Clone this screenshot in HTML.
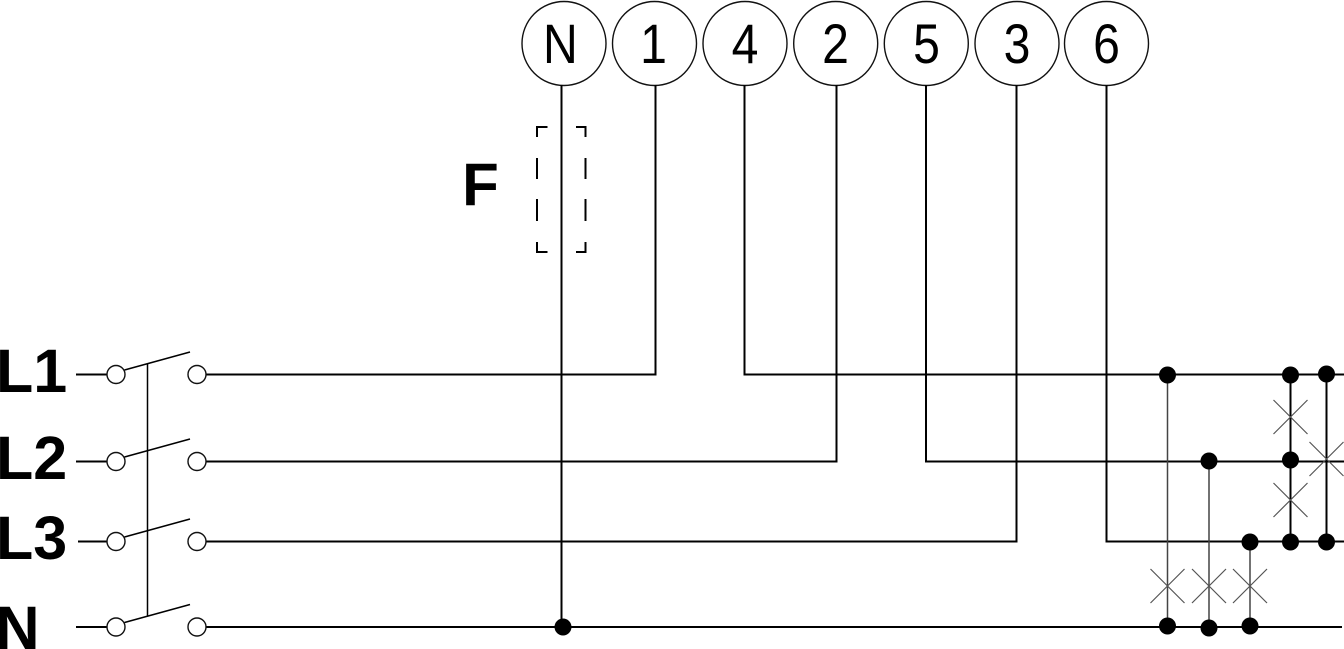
<!DOCTYPE html>
<html>
<head>
<meta charset="utf-8">
<style>
  html, body { margin: 0; padding: 0; background: #fff; }
  svg { display: block; }
  text { font-family: "Liberation Sans", Arial, sans-serif; fill: #000; }
</style>
</head>
<body>
<svg width="1344" height="649" viewBox="0 0 1344 649" xmlns="http://www.w3.org/2000/svg">
  <!-- Top terminal circles -->
  <g fill="none" stroke="#111" stroke-width="1.4">
    <circle cx="564" cy="43.5" r="42"/>
    <circle cx="654.5" cy="43.5" r="42"/>
    <circle cx="745" cy="43.5" r="42"/>
    <circle cx="835.7" cy="43.5" r="42"/>
    <circle cx="926.3" cy="43.5" r="42"/>
    <circle cx="1017" cy="43.5" r="42"/>
    <circle cx="1106.5" cy="43.5" r="42"/>
  </g>
  <g font-size="56" text-anchor="middle" transform="scale(0.86 1)">
    <text x="651.7" y="63">N</text>
    <text x="759.9" y="63">1</text>
    <text x="866.3" y="63">4</text>
    <text x="971.5" y="63">2</text>
    <text x="1077.3" y="63">5</text>
    <text x="1182.6" y="63">3</text>
    <text x="1286.6" y="63">6</text>
  </g>

  <!-- Vertical wires from circles -->
  <g stroke="#000" stroke-width="2" fill="none">
    <line x1="561.5" y1="85" x2="561.5" y2="627"/>
    <line x1="655.5" y1="85" x2="655.5" y2="375"/>
    <line x1="744.5" y1="85" x2="744.5" y2="375"/>
    <line x1="836.5" y1="85" x2="836.5" y2="462"/>
    <line x1="926" y1="85" x2="926" y2="462"/>
    <line x1="1016.5" y1="85" x2="1016.5" y2="542"/>
    <line x1="1106.5" y1="85" x2="1106.5" y2="542"/>
  </g>

  <!-- Horizontal wires -->
  <g stroke="#000" stroke-width="2" fill="none">
    <line x1="76" y1="374.5" x2="107" y2="374.5"/>
    <line x1="206" y1="374.5" x2="656.5" y2="374.5"/>
    <line x1="743.5" y1="374.5" x2="1344" y2="374.5"/>
    <line x1="76" y1="461.5" x2="107" y2="461.5"/>
    <line x1="206" y1="461.5" x2="837.5" y2="461.5"/>
    <line x1="925" y1="461.5" x2="1344" y2="461.5"/>
    <line x1="78" y1="541.5" x2="107" y2="541.5"/>
    <line x1="206" y1="541.5" x2="1017.5" y2="541.5"/>
    <line x1="1105.5" y1="541.5" x2="1344" y2="541.5"/>
    <line x1="76" y1="627" x2="107" y2="627"/>
    <line x1="206" y1="627" x2="1342" y2="627"/>
  </g>

  <!-- Switch contacts -->
  <g fill="#fff" stroke="#111" stroke-width="1.4">
    <circle cx="116" cy="374.5" r="9"/>
    <circle cx="197" cy="374.5" r="9"/>
    <circle cx="116" cy="461.5" r="9"/>
    <circle cx="197" cy="461.5" r="9"/>
    <circle cx="116" cy="541.5" r="9"/>
    <circle cx="197" cy="541.5" r="9"/>
    <circle cx="116" cy="627" r="9"/>
    <circle cx="197" cy="627" r="9"/>
  </g>
  <!-- Switch levers -->
  <g stroke="#000" stroke-width="1.5" fill="none">
    <line x1="124.5" y1="370" x2="190" y2="352"/>
    <line x1="124.5" y1="457" x2="190" y2="439"/>
    <line x1="124.5" y1="537" x2="190" y2="519"/>
    <line x1="124.5" y1="622.5" x2="190" y2="604.5"/>
    <line x1="147.5" y1="363.5" x2="147.5" y2="616"/>
  </g>

  <!-- Labels left -->
  <g font-size="61" font-weight="bold">
    <text x="-4" y="392">L1</text>
    <text x="-4" y="479">L2</text>
    <text x="-4" y="559">L3</text>
    <text x="-4.5" y="649">N</text>
  </g>

  <!-- Fuse F -->
  <text x="480.5" y="205" font-size="60" font-weight="bold" text-anchor="middle">F</text>
  <g stroke="#000" stroke-width="2" fill="none">
    <path d="M547.5,127 H537 V137 M537,158 V179 M537,199 V221 M537,242 V252 H547.5"/>
    <path d="M576,127 H585.5 V137 M585.5,158 V179 M585.5,199 V221 M585.5,242 V252 H576"/>
  </g>

  <!-- Right side interconnects -->
  <g stroke="#444" stroke-width="1.5" fill="none">
    <line x1="1167.5" y1="375" x2="1167.5" y2="627"/>
    <line x1="1209" y1="461" x2="1209" y2="628"/>
    <line x1="1250" y1="542" x2="1250" y2="627"/>
  </g>
  <g stroke="#000" stroke-width="2" fill="none">
    <line x1="1290.5" y1="375" x2="1290.5" y2="542"/>
    <line x1="1326.5" y1="374" x2="1326.5" y2="542"/>
  </g>
  <!-- Crosses -->
  <g stroke="#555" stroke-width="1.2" fill="none">
    <path d="M1150.5,569 L1184.5,603 M1184.5,569 L1150.5,603"/>
    <path d="M1192,569 L1226,603 M1226,569 L1192,603"/>
    <path d="M1233,569 L1267,603 M1267,569 L1233,603"/>
    <path d="M1273.5,400 L1307.5,434 M1307.5,400 L1273.5,434"/>
    <path d="M1273.5,483 L1307.5,517 M1307.5,483 L1273.5,517"/>
    <path d="M1309.5,442 L1343.5,476 M1343.5,442 L1309.5,476"/>
  </g>
  <!-- Junction dots -->
  <g fill="#000">
    <circle cx="563" cy="627" r="8.5"/>
    <circle cx="1167.5" cy="375" r="8.5"/>
    <circle cx="1290.5" cy="375" r="8.5"/>
    <circle cx="1326.5" cy="374" r="8.5"/>
    <circle cx="1209" cy="461" r="8.5"/>
    <circle cx="1290.5" cy="460" r="8.5"/>
    <circle cx="1250" cy="542" r="8.5"/>
    <circle cx="1290.5" cy="542" r="8.5"/>
    <circle cx="1326.5" cy="542" r="8.5"/>
    <circle cx="1167.5" cy="626" r="8.5"/>
    <circle cx="1209" cy="628" r="8.5"/>
    <circle cx="1250" cy="626" r="8.5"/>
  </g>
</svg>
</body>
</html>
